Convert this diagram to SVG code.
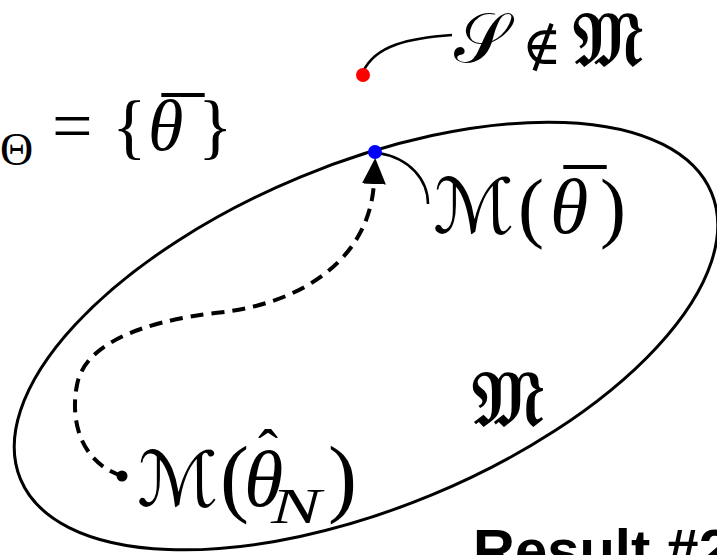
<svg xmlns="http://www.w3.org/2000/svg" width="717" height="555" viewBox="0 0 717 555">
<style>
.m{font-family:"Liberation Serif","DejaVu Serif",serif;fill:#000}
.i{font-style:italic}
.cal{font-family:"DejaVu Sans","DejaVu Serif","Noto Sans",sans-serif;fill:#000}
.fr{font-family:"DejaVu Sans","DejaVu Serif","Noto Sans",sans-serif;fill:#000;stroke:#000;stroke-width:1.6}
.ln{fill:none;stroke:#000}
</style>
<defs>
<marker id="arr" markerUnits="userSpaceOnUse" markerWidth="26" markerHeight="26" viewBox="0 0 26 24" refX="2" refY="12" orient="auto">
<path d="M0,0 L26,12 L0,24 Z" fill="#000"/>
</marker>
</defs>
<rect width="717" height="555" fill="#fff"/>
<g id="manifold">
<ellipse cx="366" cy="336" rx="374" ry="172" transform="rotate(-22.5 366 336)" fill="none" stroke="#000" stroke-width="3"/>
</g>
<g id="connectors">
<path class="ln" d="M122,476 C80,462 70,420 77,385 C84,345 140,322 215,313 C300,305 370,260 374,182" stroke-width="4" stroke-dasharray="13,8" marker-end="url(#arr)"/>
<path class="ln" d="M363,72 C375,45 410,38 452,35" stroke-width="2.5"/>
<path class="ln" d="M378,153 C410,158 428,180 428,204" stroke-width="2.5"/>
</g>
<g id="point-S">
<circle cx="363" cy="75" r="7" fill="#f00"/>
<text class="cal" x="454" y="62" font-size="70">𝒮</text>
<text class="m" x="522" y="64" font-size="54">∉</text>
<text class="fr" x="573" y="66" font-size="76">𝔐</text>
</g>
<g id="theta-set">
<text class="m" x="0" y="165" font-size="46">Θ</text>
<text class="m" x="52" y="150" font-size="72">=</text>
<text class="m" x="112" y="150" font-size="72">{</text>
<text class="m i" x="148" y="150" font-size="72">θ</text>
<text class="m" x="162" y="157" font-size="84">¯</text>
<text class="m" x="198" y="150" font-size="72">}</text>
</g>
<g id="point-Mbar">
<circle cx="375" cy="152" r="7" fill="#00f"/>
<text class="cal" x="433" y="233" font-size="76">ℳ</text>
<text class="m" x="518" y="233" font-size="78">(</text>
<text class="m i" x="550" y="233" font-size="78">θ</text>
<text class="m" x="564" y="229" font-size="84">¯</text>
<text class="m" x="600" y="233" font-size="78">)</text>
</g>
<g id="point-Mhat">
<circle cx="122" cy="476" r="5.5" fill="#000"/>
<text class="cal" x="137" y="506" font-size="76">ℳ</text>
<text class="m" x="220" y="506" font-size="87">(</text>
<text class="m i" x="244" y="506" font-size="80">θ</text>
<text class="m" x="258" y="470" font-size="60">ˆ</text>
<text class="m i" x="271" y="523" font-size="50" textLength="50" lengthAdjust="spacingAndGlyphs">N</text>
<text class="m" x="328" y="506" font-size="87">)</text>
</g>
<g id="label-M">
<text class="fr" x="472" y="426" font-size="78">𝔐</text>
</g>
<g id="result">
<text x="473" y="570" font-family="Liberation Sans,Arial,sans-serif" font-weight="bold" font-size="58" fill="#000">Result #2</text>
</g>
</svg>
